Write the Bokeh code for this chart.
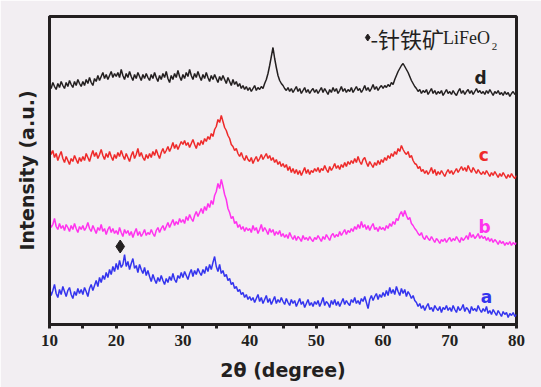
from bokeh.plotting import figure
from bokeh.models import Range1d, FixedTicker
from bokeh.core.properties import value
from bokeh.embed import file_html
from bokeh.resources import INLINE

# 2-theta grid (degrees), 0.25 degree steps, 10..80
two_theta = [10 + 0.25 * i for i in range(281)]

# intensities (a.u., vertically offset curves)
curve_a = [
    36, 29, 34, 40, 31, 27, 35, 30, 38, 33, 28, 34, 37, 30, 26, 33, 29, 36, 31, 35,
    30, 37, 33, 28, 36, 40, 34, 39, 44, 38, 47, 42, 49, 45, 52, 47, 55, 50, 58, 53,
    61, 55, 64, 57, 60, 70, 58, 63, 55, 61, 66, 56, 59, 52, 60, 55, 51, 57, 49, 54,
    48, 43, 50, 45, 41, 47, 43, 49, 44, 40, 46, 42, 48, 44, 51, 45, 42, 49, 46, 52,
    47, 53, 49, 45, 51, 55, 48, 54, 50, 56, 52, 49, 55, 51, 58, 53, 60, 55, 62, 68,
    58, 53, 60, 51, 54, 48, 50, 44, 46, 40, 42, 36, 38, 33, 35, 30, 32, 27, 30, 25,
    28, 24, 27, 22, 26, 30, 23, 27, 21, 25, 29, 22, 26, 20, 24, 28, 21, 25, 22, 27,
    23, 20, 26, 22, 19, 25, 21, 24, 18, 22, 26, 20, 23, 17, 21, 25, 19, 22, 18, 23,
    20, 24, 18, 22, 27, 19, 23, 21, 17, 24, 20, 25, 19, 23, 18, 22, 26, 20, 24, 21,
    19, 25, 22, 27, 21, 24, 20, 26, 23, 28, 22, 16, 25, 29, 24, 28, 31, 25, 30, 27,
    32, 28, 34, 29, 37, 31, 35, 30, 38, 33, 29, 36, 31, 35, 28, 33, 30, 26, 29, 24,
    22, 18, 21, 16, 19, 14, 18, 21, 15, 17, 13, 19, 16, 14, 18, 12, 17, 15, 19, 14,
    17, 13, 19, 15, 12, 18, 14, 16, 20, 13, 17, 15, 11, 18, 14, 16, 13, 19, 15, 12,
    16, 13, 18, 11, 14, 10, 15, 12, 9, 14, 11, 8, 13, 10, 12, 7, 11, 9, 12, 8,
    10,
]
curve_b = [
    103, 97, 100, 106, 98, 95, 101, 96, 99, 94, 100, 97, 93, 99, 95, 101, 96, 92, 98, 95,
    99, 94, 97, 102, 96, 93, 99, 95, 91, 97, 94, 100, 93, 96, 90, 95, 98, 92, 96, 91,
    94, 90, 97, 92, 88, 95, 91, 94, 89, 93, 87, 92, 96, 89, 93, 88, 91, 95, 89, 92,
    90, 95, 91, 88, 94, 97, 92, 96, 99, 94, 98, 102, 97, 101, 105, 99, 103, 100, 106, 102,
    105, 101, 108, 104, 110, 106, 103, 109, 113, 108, 112, 116, 111, 118, 114, 121, 117, 124, 120, 129,
    133, 141, 136, 145, 138, 130, 125, 116, 112, 106, 108, 101, 103, 97, 100, 95, 98, 93, 97, 94,
    96, 92, 99, 94, 97, 91, 95, 100, 93, 97, 94, 90, 96, 92, 95, 89, 93, 90, 94, 88,
    91, 87, 90, 86, 92, 88, 85, 89, 84, 88, 86, 83, 89, 85, 87, 84, 88, 85, 83, 87,
    85, 89, 86, 83, 88, 85, 90, 87, 84, 89, 91, 87, 90, 88, 93, 89, 92, 95, 90, 94,
    92, 96, 93, 98, 95, 100, 96, 103, 97, 100, 95, 99, 94, 98, 101, 95, 97, 93, 98, 95,
    97, 94, 99, 96, 101, 98, 103, 100, 106, 104, 110, 113, 108, 114, 109, 105, 107, 101, 99, 96,
    94, 91, 89, 92, 87, 85, 89, 86, 84, 88, 85, 82, 86, 84, 81, 85, 83, 86, 82, 85,
    87, 83, 86, 84, 88, 85, 82, 87, 84, 86, 89, 85, 92, 87, 90, 86, 88, 91, 86, 89,
    86, 88, 84, 87, 83, 86, 82, 85, 83, 80, 84, 81, 83, 79, 82, 80, 83, 79, 82, 80,
    82,
]
curve_c = [
    178, 170, 174, 167, 171, 164, 169, 173, 166, 162, 168, 164, 160, 166, 163, 169, 165, 161, 167, 163,
    168, 164, 171, 167, 163, 169, 174, 168, 172, 166, 170, 175, 169, 165, 171, 167, 173, 168, 164, 170,
    166, 172, 168, 174, 169, 165, 171, 167, 163, 169, 173, 166, 170, 176, 168, 172, 167, 164, 170, 166,
    171, 167, 173, 169, 175, 170, 166, 172, 176, 171, 174, 178, 173, 177, 182, 176, 180, 175, 179, 183,
    180, 184, 179, 182, 177, 181, 185, 180, 176, 182, 179, 184, 180, 186, 183, 188, 185, 191, 188, 195,
    198, 205, 202, 209, 203, 197, 194, 189, 186, 180, 178, 174, 176, 171, 168, 172, 167, 164, 169, 165,
    163, 167, 161, 165, 168, 163, 166, 170, 165, 168, 171, 166, 169, 164, 167, 162, 165, 160, 163, 158,
    161, 157, 160, 154, 158, 152, 156, 151, 155, 150, 154, 149, 153, 157, 151, 155, 150, 154, 152, 156,
    153, 157, 152, 156, 154, 159, 155, 152, 158, 154, 157, 161, 156, 159, 155, 160, 157, 162, 158, 163,
    160, 164, 161, 166, 162, 168, 163, 160, 165, 167, 162, 158, 163, 160, 157, 162, 159, 164, 160, 165,
    162, 167, 164, 169, 166, 171, 168, 173, 170, 176, 173, 179, 175, 172, 170, 173, 167, 169, 164, 161,
    160, 156, 158, 153, 155, 151, 154, 150, 153, 157, 151, 155, 149, 153, 150, 154, 151, 148, 152, 155,
    151, 154, 150, 153, 156, 152, 155, 158, 154, 157, 153, 159, 155, 152, 157, 154, 151, 155, 152, 150,
    153, 150, 154, 151, 148, 152, 149, 153, 150, 147, 151, 148, 152, 149, 146, 150, 147, 151, 148, 146,
    149,
]
curve_d = [
    240, 236, 242, 238, 235, 241, 237, 243, 239, 236, 242, 238, 244, 240, 237, 243, 239, 245, 241, 238,
    243, 239, 245, 241, 247, 242, 239, 246, 243, 249, 244, 248, 252, 246, 250, 245, 249, 253, 247, 251,
    248, 252, 247, 255, 249, 245, 251, 247, 253, 248, 244, 250, 246, 252, 248, 244, 250, 246, 251, 247,
    244, 250, 246, 252, 247, 243, 249, 245, 251, 247, 253, 246, 242, 249, 245, 251, 247, 254, 248, 244,
    250, 246, 252, 248, 255, 249, 245, 251, 247, 253, 248, 244, 250, 246, 252, 247, 243, 249, 245, 250,
    246, 242, 248, 244, 249, 245, 241, 247, 243, 239, 245, 240, 243, 238, 241, 236, 239, 235, 238, 234,
    237, 233, 236, 239, 234, 237, 235, 238, 236, 241, 245, 251, 259, 268, 277, 266, 257, 249, 244, 241,
    239, 236, 234, 237, 233, 236, 232, 235, 238, 233, 236, 231, 234, 237, 232, 235, 231, 234, 236, 232,
    235, 231, 234, 237, 232, 236, 233, 230, 235, 232, 237, 233, 236, 231, 234, 238, 233, 236, 232, 235,
    233, 237, 232, 235, 238, 234, 236, 232, 235, 239, 234, 237, 233, 236, 240, 235, 238, 234, 237, 239,
    236, 239, 237, 240, 238, 242, 240, 245, 249, 253, 256, 259, 261, 258, 255, 252, 248, 244, 241, 238,
    236, 233, 235, 231, 234, 232, 235, 230, 233, 236, 231, 234, 230, 233, 231, 234, 229, 232, 235, 231,
    233, 230, 234, 231, 229, 233, 236, 231, 234, 230, 233, 235, 231, 234, 230, 233, 236, 232, 234, 231,
    233, 230, 234, 231, 235, 232, 229, 233, 231, 234, 230, 232, 229, 233, 230, 232, 228, 231, 233, 230,
    232,
]

series_names = ["a", "b", "c", "d"]
series_colors = ["#3434ee", "#ff33ee", "#ee2a2a", "#231f20"]
series_data = [curve_a, curve_b, curve_c, curve_d]
label_x = [75.5, 75.2, 75.1, 74.6]
label_y = [28, 98, 170, 247]

marker_x = [20.6]
marker_y = [78]

x_ticks = [10, 20, 30, 40, 50, 60, 70, 80]
x_minor = [15, 25, 35, 45, 55, 65, 75]

for ys in series_data:
    assert len(ys) == len(two_theta), len(ys)

BG = "#f2eef2"
INK = "#231f20"

p = figure(width=541, height=387, output_backend="svg", toolbar_location=None,
           x_range=Range1d(10, 80), y_range=Range1d(0, 308),
           min_border_left=49, min_border_right=25, min_border_top=16,
           min_border_bottom=63)
p.background_fill_color = BG
p.border_fill_color = BG
p.outline_line_color = INK
p.outline_line_width = 3
p.grid.visible = False

for ys, col in zip(series_data, series_colors):
    p.line(two_theta, ys, line_color=col, line_width=1.5)

for name, col, lx, ly in zip(series_names, series_colors, label_x, label_y):
    p.text(x=[lx], y=[ly], text=[name], text_color=col,
           text_font=value("DejaVu Sans"), text_font_style="bold",
           text_font_size="17px", text_baseline="middle", text_align="center")

p.scatter(marker_x, marker_y, marker="diamond", size=13, color=INK)

# annotation
p.scatter([57.7], [287], marker="diamond", size=7, color=INK)
p.text(x=[58.1], y=[287], text=["-针铁矿"], text_color=INK,
       text_font=value("Noto Sans CJK SC"), text_font_size="22px",
       text_baseline="middle", text_align="left")
p.text(x=[69.0], y=[287], text=["LiFeO"], text_color=INK,
       text_font=value("Liberation Serif"), text_font_size="18px",
       text_baseline="middle", text_align="left")
p.text(x=[76.3], y=[278], text=["2"], text_color=INK,
       text_font=value("Liberation Serif"), text_font_size="11px",
       text_baseline="middle", text_align="left")

# x axis
xa = p.xaxis[0]
xa.ticker = FixedTicker(ticks=x_ticks, minor_ticks=x_minor)
xa.axis_label = "2θ (degree)"
xa.axis_label_text_font = "DejaVu Sans"
xa.axis_label_text_font_style = "bold"
xa.axis_label_text_font_size = "19px"
xa.axis_label_text_color = INK
xa.axis_label_standoff = 10
xa.major_label_text_font = "Liberation Serif"
xa.major_label_text_font_style = "bold"
xa.major_label_text_font_size = "17px"
xa.major_label_text_color = INK
xa.major_label_standoff = 6
xa.axis_line_color = INK
xa.axis_line_width = 3
xa.major_tick_line_color = INK
xa.major_tick_line_width = 3
xa.major_tick_in = 0
xa.major_tick_out = 4
xa.minor_tick_line_color = INK
xa.minor_tick_line_width = 3
xa.minor_tick_in = 0
xa.minor_tick_out = 4

ya = p.yaxis[0]
ya.ticker = FixedTicker(ticks=[])
ya.axis_label = "Intensity (a.u.)"
ya.axis_label_text_font = "DejaVu Sans"
ya.axis_label_text_font_style = "bold"
ya.axis_label_text_font_size = "19px"
ya.axis_label_text_color = INK
ya.axis_label_standoff = 12
ya.axis_line_color = INK
ya.axis_line_width = 3
ya.major_tick_line_color = None
ya.minor_tick_line_color = None
ya.major_label_text_font_size = "0px"

html = file_html(p, INLINE)
html = html.replace("<body>", '<body style="background-color:%s;">' % BG, 1)
open("out.html", "w").write(html)
